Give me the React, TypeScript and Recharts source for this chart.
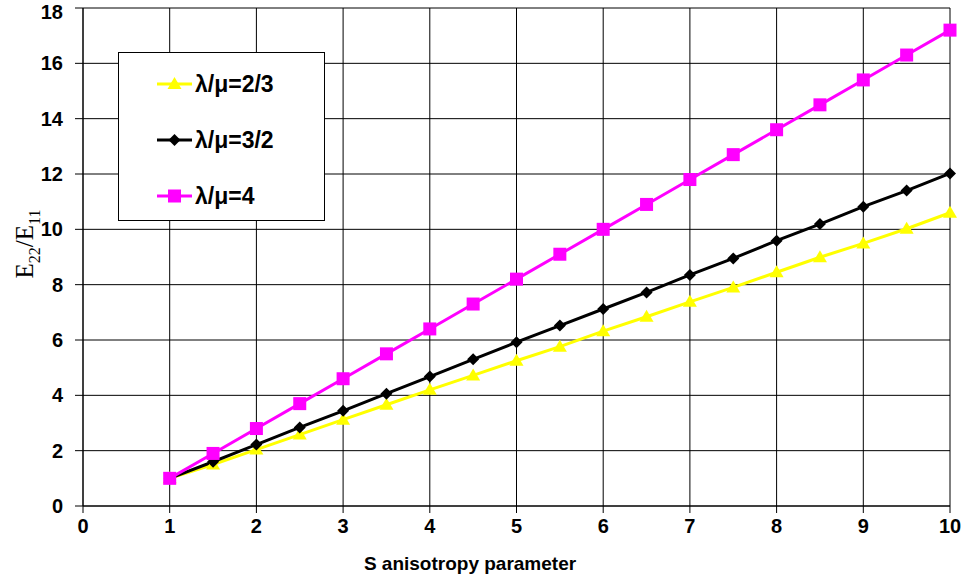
import React from "react";
import {
  LineChart,
  Line,
  XAxis,
  YAxis,
  CartesianGrid,
} from "recharts";

const sValues = [1, 1.5, 2, 2.5, 3, 3.5, 4, 4.5, 5, 5.5, 6, 6.5, 7, 7.5, 8, 8.5, 9, 9.5, 10];
const ratio23 = [1, 1.5, 2.04, 2.58, 3.12, 3.66, 4.2, 4.72, 5.25, 5.76, 6.32, 6.84, 7.38, 7.9, 8.45, 8.99, 9.49, 10.02, 10.6];
const ratio32 = [1, 1.6, 2.22, 2.84, 3.44, 4.06, 4.68, 5.3, 5.92, 6.52, 7.12, 7.72, 8.35, 8.95, 9.59, 10.19, 10.82, 11.4, 12.02];
const ratio4 = [1, 1.9, 2.8, 3.7, 4.6, 5.5, 6.4, 7.3, 8.2, 9.1, 10.0, 10.9, 11.8, 12.7, 13.6, 14.5, 15.4, 16.3, 17.2];
const xTicks = [0, 1, 2, 3, 4, 5, 6, 7, 8, 9, 10];
const yTicks = [0, 2, 4, 6, 8, 10, 12, 14, 16, 18];

const seriesNames = ["λ/μ=2/3", "λ/μ=3/2", "λ/μ=4"];
const seriesColors = ["#FFFF00", "#000000", "#FF00FF"];

const data = sValues.map((s, i) => ({
  s,
  a: ratio23[i],
  b: ratio32[i],
  c: ratio4[i],
}));

const font = "'Liberation Sans', Arial, sans-serif";

const Triangle = (props: any) => {
  const { cx, cy, fill } = props;
  if (cx == null || cy == null) return null;
  return <polygon points={`${cx},${cy - 7} ${cx - 7},${cy + 5} ${cx + 7},${cy + 5}`} fill={fill} />;
};

const Diamond = (props: any) => {
  const { cx, cy, fill } = props;
  if (cx == null || cy == null) return null;
  return <polygon points={`${cx},${cy - 6} ${cx + 6},${cy} ${cx},${cy + 6} ${cx - 6},${cy}`} fill={fill} />;
};

const Square = (props: any) => {
  const { cx, cy, fill } = props;
  if (cx == null || cy == null) return null;
  return <rect x={cx - 6.5} y={cy - 6.5} width={13} height={13} fill={fill} />;
};

const markers = [Triangle, Diamond, Square];

function LegendBox() {
  return (
    <div
      style={{
        position: "absolute",
        left: 118,
        top: 52,
        width: 207,
        height: 169,
        border: "1px solid #000",
        background: "#fff",
        boxSizing: "border-box",
        paddingTop: 3,
        fontFamily: font,
      }}
    >
      {seriesNames.map((name, i) => {
        const M = markers[i];
        return (
          <div key={name} style={{ display: "flex", alignItems: "center", height: 56, paddingLeft: 38 }}>
            <svg width={36} height={20}>
              <line x1={0} y1={10} x2={35} y2={10} stroke={seriesColors[i]} strokeWidth={3} />
              <M cx={17.5} cy={10} fill={seriesColors[i]} />
            </svg>
            <span style={{ fontWeight: "bold", fontSize: 23, marginLeft: 2 }}>{name}</span>
          </div>
        );
      })}
    </div>
  );
}

export default function App() {
  return (
    <div style={{ position: "absolute", left: 0, top: 0, width: 967, height: 583, background: "#fff" }}>
      <LineChart
        width={967}
        height={583}
        data={data}
        margin={{ top: 8, right: 17, left: 0, bottom: 37 }}
      >
        <CartesianGrid stroke="#000" strokeWidth={1} horizontal vertical />
        <XAxis
          dataKey="s"
          type="number"
          domain={[0, 10]}
          ticks={xTicks}
          height={40}
          stroke="#000"
          tickSize={7}
          tick={{ fill: "#000", fontSize: 20, fontWeight: "bold", fontFamily: font }}
          tickMargin={6}
        />
        <YAxis
          type="number"
          domain={[0, 18]}
          ticks={yTicks}
          width={83}
          stroke="#000"
          tickSize={8}
          tick={{ fill: "#000", fontSize: 20, fontWeight: "bold", fontFamily: font }}
          tickMargin={12}
        />
        {["a", "b", "c"].map((key, i) => {
          const M = markers[i];
          return (
            <Line
              key={key}
              dataKey={key}
              name={seriesNames[i]}
              stroke={seriesColors[i]}
              strokeWidth={3}
              dot={(p: any) => <M key={`${key}-${p.index}`} cx={p.cx} cy={p.cy} fill={seriesColors[i]} />}
              isAnimationActive={false}
            />
          );
        })}
        <text
          x={470}
          y={570}
          textAnchor="middle"
          fontFamily={font}
          fontWeight="bold"
          fontSize={19}
          fill="#000"
        >
          S anisotropy parameter
        </text>
        <text
          transform="translate(33, 244) rotate(-90)"
          textAnchor="middle"
          fontFamily="'Liberation Serif', 'Times New Roman', serif"
          fontSize={25}
          fill="#000"
        >
          E
          <tspan fontSize={16} dy={7}>22</tspan>
          <tspan fontSize={25} dy={-7}>/E</tspan>
          <tspan fontSize={16} dy={7}>11</tspan>
        </text>
      </LineChart>
      <LegendBox />
    </div>
  );
}
